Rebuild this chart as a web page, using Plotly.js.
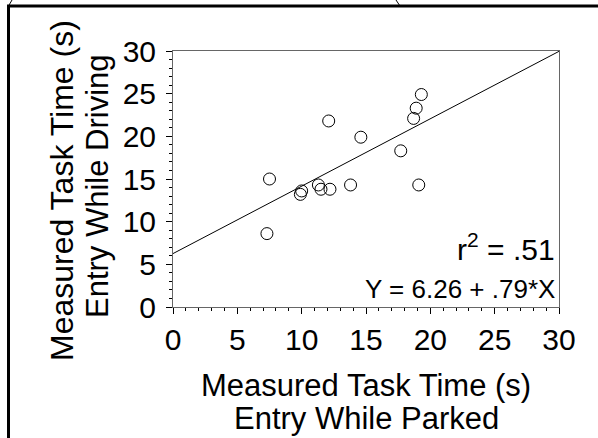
<!DOCTYPE html>
<html>
<head>
<meta charset="utf-8">
<script src="https://cdn.plot.ly/plotly-3.0.1.min.js"></script>
<style>
html,body{margin:0;padding:0;background:#fff;}
#chart{width:598px;height:438px;}
</style>
</head>
<body>
<div id="chart"></div>
<script>
// Measured task times (s): x = entry while parked, y = entry while driving
var parkedTime  = [7.5, 7.3, 9.9, 10.0, 11.3, 11.5, 12.2, 12.1, 13.8, 14.6, 17.7, 19.1, 18.7, 18.9, 19.3];
var drivingTime = [15.0, 8.6, 13.2, 13.6, 14.3, 13.8, 13.8, 21.8, 14.3, 19.9, 18.3, 14.3, 22.1, 23.3, 24.9];
// Regression line end points (Y = 6.26 + .79*X)
var fitX = [0, 30];
var fitY = [6.26, 29.96];
var tickVals = [0, 5, 10, 15, 20, 25, 30];
var tickText = ['0', '5', '10', '15', '20', '25', '30'];
var xTitleLines = ['Measured Task Time (s)', 'Entry While Parked'];
var yTitleLines = ['Measured Task Time (s)', 'Entry While Driving'];
var statLines = ['r<sup>2</sup> = .51', 'Y = 6.26 + .79*X'];

var FONT = 'Liberation Sans, Arial, sans-serif';

var traces = [
  {x: fitX, y: fitY, mode: 'lines', type: 'scatter',
   line: {color: '#000', width: 1}, hoverinfo: 'skip', showlegend: false},
  {x: parkedTime, y: drivingTime, mode: 'markers', type: 'scatter',
   marker: {symbol: 'circle-open', size: 12, color: '#000', line: {width: 1, color: '#000'}},
   showlegend: false}
];

var axisCommon = {
  range: [0, 30], tickvals: tickVals, ticktext: tickText,
  ticks: 'outside', ticklen: 6, tickwidth: 1, tickcolor: '#000',
  showline: true, linecolor: '#666', linewidth: 1, mirror: true,
  showgrid: false, zeroline: false,
  tickfont: {family: FONT, size: 30, color: '#000'},
  minor: {dtick: 1, ticks: 'outside', ticklen: 3, tickcolor: '#000', showgrid: false},
  fixedrange: true
};

function px2x(px) { return (px - 173) / 386; }
function py2y(py) { return (307 - py) / 256; }

var layout = {
  width: 598, height: 438,
  margin: {l: 173, r: 39, t: 51, b: 131},
  paper_bgcolor: '#fff', plot_bgcolor: '#fff',
  font: {family: FONT, color: '#000'},
  xaxis: Object.assign({}, axisCommon, {title: {text: ''}}),
  yaxis: Object.assign({}, axisCommon, {title: {text: ''}, ticklabelstandoff: 4}),
  showlegend: false,
  shapes: [
    {type: 'rect', xref: 'paper', yref: 'paper', x0: px2x(8.5), x1: px2x(700), y0: py2y(600), y1: py2y(6),
     line: {color: '#000', width: 3}, fillcolor: 'rgba(0,0,0,0)', layer: 'above'},
    {type: 'line', xref: 'paper', yref: 'paper', x0: px2x(8.5), y0: py2y(6), x1: px2x(12), y1: py2y(0),
     line: {color: '#000', width: 1}},
    {type: 'line', xref: 'paper', yref: 'paper', x0: px2x(396), y0: py2y(0), x1: px2x(400), y1: py2y(6),
     line: {color: '#000', width: 1}}
  ],
  annotations: [
    {xref: 'paper', yref: 'paper', x: 0.5, y: py2y(385), xanchor: 'center', yanchor: 'middle',
     text: xTitleLines[0], showarrow: false, font: {family: FONT, size: 31, color: '#000'}},
    {xref: 'paper', yref: 'paper', x: 0.5, y: py2y(418), xanchor: 'center', yanchor: 'middle',
     text: xTitleLines[1], showarrow: false, font: {family: FONT, size: 31, color: '#000'}},
    {xref: 'paper', yref: 'paper', x: px2x(62), y: py2y(190), xanchor: 'center', yanchor: 'middle',
     text: yTitleLines[0], showarrow: false, textangle: -90, font: {family: FONT, size: 32, color: '#000'}},
    {xref: 'paper', yref: 'paper', x: px2x(97), y: py2y(186), xanchor: 'center', yanchor: 'middle',
     text: yTitleLines[1], showarrow: false, textangle: -90, font: {family: FONT, size: 31, color: '#000'}},
    {xref: 'paper', yref: 'paper', x: px2x(557), y: py2y(247), xanchor: 'right', yanchor: 'middle',
     text: statLines[0], showarrow: false, font: {family: FONT, size: 30, color: '#000'}},
    {xref: 'paper', yref: 'paper', x: px2x(557), y: py2y(289), xanchor: 'right', yanchor: 'middle',
     text: statLines[1], showarrow: false, font: {family: FONT, size: 26, color: '#000'}}
  ]
};

Plotly.newPlot('chart', traces, layout, {displayModeBar: false, staticPlot: true});
</script>
</body>
</html>
